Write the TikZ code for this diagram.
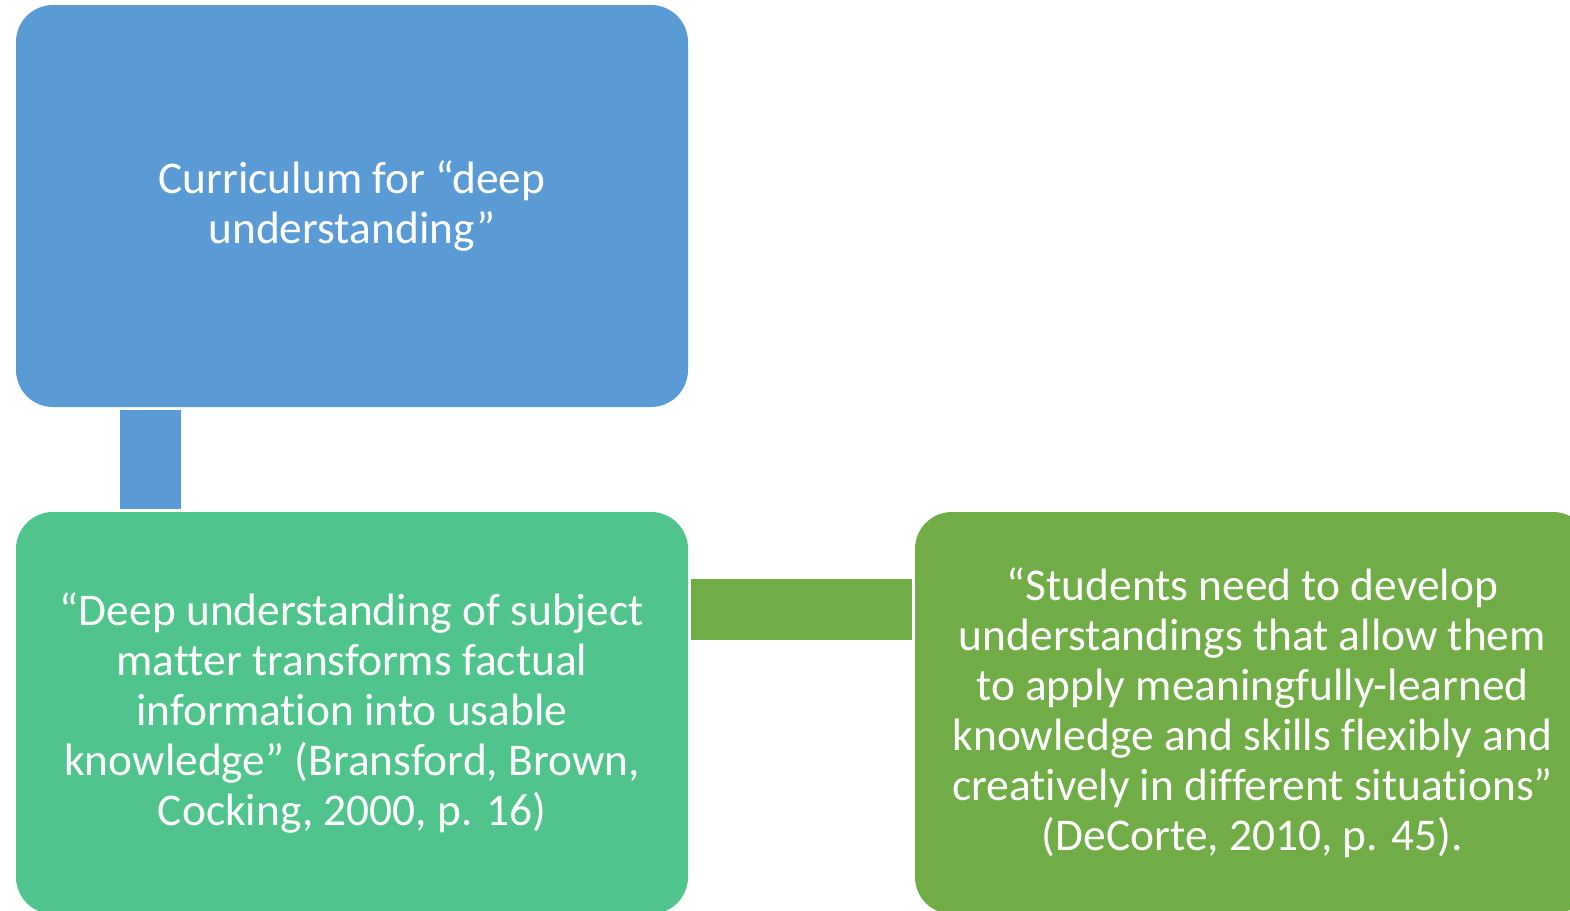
\documentclass[tikz,border=0pt]{standalone}
\usepackage{fontspec}
\setmainfont{Carlito}[Ligatures=NoCommon]
\definecolor{boxblue}{HTML}{5B9BD5}
\definecolor{boxteal}{HTML}{4FC48D}
\definecolor{boxgreen}{HTML}{70AD47}
\begin{document}
\begin{tikzpicture}[x=1pt,y=-1pt,
  card/.style={rounded corners=37pt, minimum width=#1, minimum height=402pt, inner sep=0pt, text=white, align=center, font=\fontsize{45.4}{50}\selectfont},
  link/.style={inner sep=0pt}]
\useasboundingbox (0,0) rectangle (1570,910);
\clip (0,0) rectangle (1570,910);
\node[card=672pt, fill=boxblue] (top) at (352,206) {Curriculum for “deep\\understanding”};
\node[card=672pt, fill=boxteal] (mid) at (352,713) {“Deep understanding of subject\\matter transforms factual\\information into usable\\knowledge” (Bransford, Brown,\\Cocking, 2000, p. 16)};
\node[card=675pt, fill=boxgreen] (right) at (1252.5,713) {“Students need to develop\\understandings that allow them\\to apply meaningfully-learned\\knowledge and skills flexibly and\\creatively in different situations”\\(DeCorte, 2010, p. 45).};
\node[link, fill=boxblue, minimum width=61pt, minimum height=99pt] (vlink) at (150.5,459.5) {};
\node[link, fill=boxgreen, minimum width=221pt, minimum height=61pt] (hlink) at (801.5,609.5) {};
\end{tikzpicture}
\end{document}
